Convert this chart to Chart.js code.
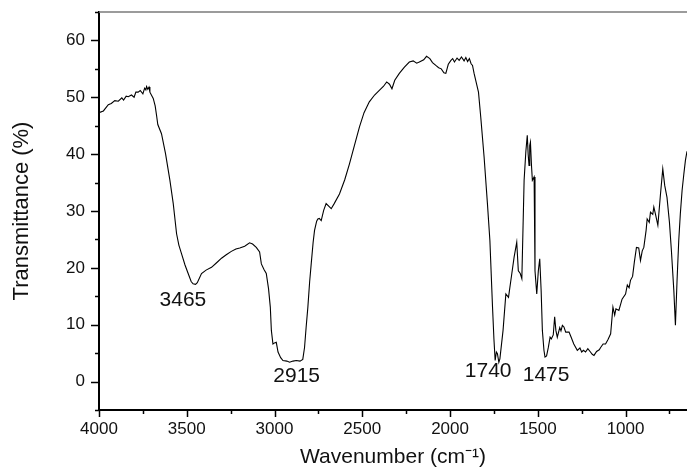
<!DOCTYPE html>
<html>
<head>
<meta charset="utf-8">
<title>FTIR spectrum</title>
<script src="https://cdn.jsdelivr.net/npm/chart.js@4.4.1/dist/chart.umd.min.js"></script>
<style>
    html, body { margin: 0; padding: 0; background: #fff; }
    #wrap { width: 687px; height: 470px; position: relative; }
</style>
</head>
<body>
<div id="wrap"><canvas id="chartSpectrum"></canvas></div>
<script>
// spectrum (cm-1 / %T)
const wavenumbers = [
    4000, 3975, 3947, 3930, 3910, 3890, 3870, 3860, 3845, 3833, 3815, 3800, 3790, 3777, 3765, 3750,
    3740, 3733, 3729, 3722, 3715, 3710, 3691, 3680, 3672, 3665, 3644, 3621, 3596, 3577, 3558, 3545,
    3530, 3510, 3492, 3475, 3464, 3450, 3440, 3416, 3390, 3359, 3330, 3302, 3275, 3246, 3220, 3198,
    3170, 3142, 3125, 3104, 3085, 3075, 3060, 3047, 3034, 3024, 3018, 3009, 3000, 2990, 2980, 2965,
    2952, 2930, 2914, 2895, 2876, 2855, 2839, 2829, 2820, 2810, 2800, 2791, 2780, 2772, 2760, 2753,
    2745, 2734, 2720, 2706, 2690, 2677, 2660, 2630, 2600, 2573, 2545, 2516, 2490, 2460, 2430, 2403,
    2380, 2361, 2345, 2331, 2315, 2289, 2260, 2232, 2210, 2190, 2175, 2150, 2134, 2115, 2100, 2081,
    2065, 2050, 2035, 2024, 2010, 1995, 1985, 1975, 1960, 1948, 1935, 1920, 1910, 1900, 1890, 1880,
    1872, 1863, 1850, 1838, 1825, 1806, 1787, 1773, 1758, 1750, 1743, 1736, 1730, 1722, 1716, 1698,
    1682, 1667, 1648, 1635, 1620, 1611, 1600, 1591, 1578, 1568, 1560, 1555, 1550, 1546, 1542, 1536,
    1531, 1521, 1516, 1506, 1497, 1489, 1481, 1474, 1465, 1459, 1450, 1440, 1430, 1423, 1412, 1404,
    1397, 1389, 1375, 1368, 1360, 1351, 1341, 1322, 1310, 1295, 1275, 1260, 1250, 1240, 1228, 1215,
    1200, 1190, 1180, 1165, 1150, 1142, 1128, 1114, 1100, 1085, 1072, 1062, 1055, 1038, 1020, 1000,
    990, 980, 972, 960, 950, 938, 925, 915, 905, 896, 883, 877, 865, 858, 845, 839,
    830, 816, 801, 788, 777, 764, 750, 739, 725, 716, 707, 697, 688, 678, 668, 659,
    650
];
const transmittance = [
    47.3, 47.6, 48.7, 48.9, 49.4, 49.3, 49.9, 49.5, 50.2, 50.1, 50.4, 50.0, 50.9, 50.9, 51.2, 50.6,
    51.6, 51.3, 51.9, 51.4, 51.8, 50.9, 49.8, 48.5, 46.8, 45.2, 43.6, 40.1, 35.4, 31.3, 26.0, 24.0,
    22.5, 20.5, 19.0, 17.6, 17.2, 17.1, 17.4, 19.0, 19.6, 20.1, 20.9, 21.7, 22.3, 22.9, 23.3, 23.5,
    23.8, 24.4, 24.2, 23.6, 22.8, 20.7, 19.7, 19.0, 16.3, 13.1, 9.0, 6.6, 6.8, 6.9, 5.2, 4.2,
    3.7, 3.6, 3.4, 3.6, 3.7, 3.6, 3.9, 6.0, 9.5, 13.1, 17.5, 20.7, 24.5, 26.6, 28.2, 28.6,
    28.7, 28.3, 30.1, 31.3, 30.8, 30.4, 31.3, 33.0, 35.5, 38.3, 41.5, 44.8, 47.3, 49.2, 50.4, 51.2,
    51.9, 52.7, 52.3, 51.5, 53.0, 54.2, 55.3, 56.2, 56.4, 56.0, 56.2, 56.6, 57.2, 56.8, 56.1, 55.6,
    55.2, 55.0, 54.3, 54.2, 55.8, 56.5, 56.8, 56.2, 56.9, 56.5, 57.1, 56.4, 57.0, 56.3, 56.8, 55.9,
    55.6, 54.2, 52.5, 50.9, 46.5, 39.5, 31.3, 24.8, 13.1, 7.5, 3.7, 5.2, 4.9, 3.4, 4.0, 9.0,
    15.4, 14.8, 19.0, 21.9, 24.5, 19.5, 19.0, 18.1, 35.4, 40.5, 43.3, 40.0, 38.0, 41.5, 42.1, 38.0,
    35.4, 36.0, 19.5, 15.4, 19.5, 21.6, 16.0, 9.0, 5.5, 4.3, 4.5, 6.0, 7.8, 7.5, 8.2, 11.4,
    9.0, 7.8, 9.5, 8.9, 9.9, 9.6, 8.7, 8.7, 7.8, 6.6, 5.5, 5.9, 5.2, 5.5, 5.2, 5.8,
    5.2, 4.8, 4.6, 5.3, 5.6, 6.0, 6.6, 6.6, 7.4, 8.4, 13.1, 11.7, 12.8, 12.5, 14.5, 15.4,
    17.0, 16.5, 17.8, 18.5, 21.0, 23.6, 23.5, 21.3, 23.0, 23.6, 26.6, 28.6, 28.0, 29.8, 29.4, 30.7,
    29.5, 27.5, 33.0, 37.4, 34.5, 32.4, 28.0, 23.1, 16.0, 9.9, 17.5, 24.8, 29.5, 33.6, 36.5, 38.9,
    40.5
];

// axis ticks
const xMajorTicks = [4000, 3500, 3000, 2500, 2000, 1500, 1000];
const xMinorTicks = [3750, 3250, 2750, 2250, 1750, 1250, 750];
const yMajorTicks = [0, 10, 20, 30, 40, 50, 60];
const yMinorTicks = [-5, 5, 15, 25, 35, 45, 55, 65];

// band annotations: text and anchor (wavenumber, %T) of the label centre
const peakLabels = ['3465', '2915', '1740', '1475'];
const peakLabelX = [3522, 2874, 1783, 1453];
const peakLabelY = [14.3, 0.9, 1.8, 1.2];

const FONT = '"Liberation Sans", Arial, sans-serif';

const spectrumDecor = {
    id: 'spectrumDecor',
    afterDraw(chart) {
        const { ctx, chartArea: area } = chart;
        const xs = chart.scales.x;
        const ys = chart.scales.y;
        ctx.save();

        // thin grey frame line on top
        ctx.strokeStyle = '#7a7a7a';
        ctx.lineWidth = 1.5;
        ctx.beginPath();
        ctx.moveTo(area.left, area.top);
        ctx.lineTo(area.right, area.top);
        ctx.stroke();

        // outward tick marks, long for major, short for minor
        ctx.strokeStyle = '#000';
        ctx.lineWidth = 1.5;
        xs.ticks.forEach(t => {
            const px = Math.round(xs.getPixelForValue(t.value)) + 0.5;
            const len = xMajorTicks.includes(t.value) ? 7 : 4;
            ctx.beginPath();
            ctx.moveTo(px, area.bottom);
            ctx.lineTo(px, area.bottom + len);
            ctx.stroke();
        });
        ys.ticks.forEach(t => {
            const py = Math.round(ys.getPixelForValue(t.value)) + 0.5;
            const len = yMajorTicks.includes(t.value) ? 8 : 4;
            ctx.beginPath();
            ctx.moveTo(area.left, py);
            ctx.lineTo(area.left - len, py);
            ctx.stroke();
        });

        // band labels
        ctx.fillStyle = '#111';
        ctx.font = '21px ' + FONT;
        ctx.textAlign = 'center';
        ctx.textBaseline = 'middle';
        peakLabels.forEach((txt, i) => {
            ctx.fillText(txt, xs.getPixelForValue(peakLabelX[i]), ys.getPixelForValue(peakLabelY[i]));
        });
        ctx.restore();
    }
};

document.addEventListener('DOMContentLoaded', function () {
    if (typeof Chart === 'undefined') return;

    const canvas = document.getElementById('chartSpectrum');

    new Chart(canvas, {
        type: 'line',
        data: {
            datasets: [{
                data: wavenumbers.map((w, i) => ({ x: w, y: transmittance[i] })),
                borderColor: '#000',
                borderWidth: 1.1,
                pointRadius: 0,
                tension: 0,
                fill: false,
            }],
        },
        options: {
            responsive: true,
            maintainAspectRatio: false,
            animation: false,
            layout: { padding: { top: 12, right: 0, bottom: 0, left: 0 } },
            plugins: {
                legend: { display: false },
                tooltip: { enabled: false },
            },
            scales: {
                x: {
                    type: 'linear',
                    reverse: true,
                    min: 650,
                    max: 4000,
                    afterBuildTicks: s => {
                        s.ticks = xMajorTicks.concat(xMinorTicks).sort((a, b) => b - a).map(v => ({ value: v }));
                    },
                    afterFit: s => {
                        s.height = 60;
                        s.paddingLeft = 0;
                        s.paddingRight = 0;
                    },
                    grid: { display: false, drawTicks: false },
                    border: { display: true, color: '#000', width: 2 },
                    ticks: {
                        autoSkip: false,
                        maxRotation: 0,
                        padding: 9,
                        color: '#111',
                        font: { family: FONT, size: 17 },
                        callback: v => xMajorTicks.includes(v) ? String(v) : '',
                    },
                    title: {
                        display: true,
                        text: 'Wavenumber (cm\u207B\u00B9)',
                        color: '#111',
                        font: { family: FONT, size: 21 },
                        padding: { top: 0, bottom: 0 },
                    },
                },
                y: {
                    min: -5,
                    max: 65,
                    afterBuildTicks: s => {
                        s.ticks = yMajorTicks.concat(yMinorTicks).sort((a, b) => a - b).map(v => ({ value: v }));
                    },
                    afterFit: s => {
                        s.width = 99;
                        s.paddingTop = 0;
                        s.paddingBottom = 0;
                    },
                    grid: { display: false, drawTicks: false },
                    border: { display: true, color: '#000', width: 2 },
                    ticks: {
                        autoSkip: false,
                        padding: 14,
                        color: '#111',
                        font: { family: FONT, size: 17 },
                        callback: v => yMajorTicks.includes(v) ? String(v) : '',
                    },
                    title: {
                        display: true,
                        text: 'Transmittance (%)',
                        color: '#111',
                        font: { family: FONT, size: 22 },
                        padding: { top: 9, bottom: 0 },
                    },
                },
            },
        },
        plugins: [spectrumDecor],
    });
});
</script>
</body>
</html>
